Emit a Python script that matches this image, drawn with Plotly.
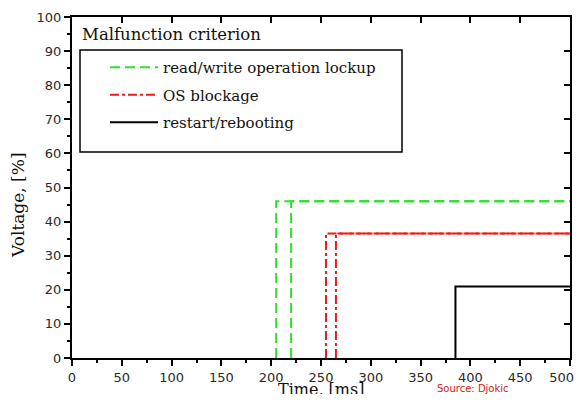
import plotly.graph_objects as go

# ---- data ----
series_names = ["read/write operation lockup", "OS blockage", "restart/rebooting"]
green_onsets = [205, 220]      # ms
green_level = 46               # %
red_onsets = [255, 265]        # ms
red_level = 36.5               # %
black_onsets = [385]           # ms
black_level = 21               # %
time_end = 500                 # ms (end of recording)
x_ticks = [0, 50, 100, 150, 200, 250, 300, 350, 400, 450, 500]
y_ticks = [0, 10, 20, 30, 40, 50, 60, 70, 80, 90, 100]

SERIF = "DejaVu Serif, Liberation Serif, serif"
SANS = "DejaVu Sans, Liberation Sans, sans-serif"

styles = [
    dict(color="#2ee02e", dash="10px,5px", width=2),
    dict(color="#ee1a1a", dash="9px,3px,3px,3px", width=2),
    dict(color="#000000", dash="solid", width=2),
]
groups = [(green_onsets, green_level), (red_onsets, red_level), (black_onsets, black_level)]

fig = go.Figure()
for i, ((onsets, level), name, st) in enumerate(zip(groups, series_names, styles)):
    for j, t0 in enumerate(onsets):
        fig.add_trace(go.Scatter(
            x=[t0, t0, time_end], y=[0, level, level],
            mode="lines", line=st, name=name,
            legendgroup=f"g{i}", showlegend=(j == 0),
            hoverinfo="skip",
        ))

# dummy trace to bring up the mirrored top/right axes
fig.add_trace(go.Scatter(x=[0], y=[0], xaxis="x2", yaxis="y2", mode="markers",
                         marker=dict(opacity=0), showlegend=False, hoverinfo="skip"))

# the page body has an 8px margin: the figure is drawn 8px right/down;
# keep the page from overflowing the window vertically
OFF = 8
W, H = 582 - OFF, 402 - 2 * OFF
L, T = 72 - OFF, 17 - OFF
R = W - (570 - OFF)
B = H - (358 - OFF)
pw, ph = W - L - R, H - T - B

def px_x(px):
    # window pixel -> paper x
    return (px - OFF - L) / pw

def px_y(py):
    # window pixel -> paper y
    return (H - B - (py - OFF)) / ph

# last x label sits against the window edge: pad it so it stays fully visible
x_ticktext = [str(v) for v in x_ticks]
x_ticktext[-1] = x_ticktext[-1] + "\u2007\u2007"

axis_common = dict(showgrid=False, zeroline=False, showline=True, linecolor="black",
                   linewidth=2, ticklen=6, tickwidth=2, tickcolor="black",
                   automargin=False)

fig.update_layout(
    width=W, height=H,
    margin=dict(l=L, r=R, t=T, b=B, autoexpand=False),
    paper_bgcolor="white", plot_bgcolor="white",
    xaxis=dict(range=[0, 500], tickvals=x_ticks, ticktext=x_ticktext, ticks="outside",
               ticklabeloverflow="allow",
               tickfont=dict(family=SANS, size=13, color="#2a2a2a"),
               minor=dict(dtick=25, ticks="outside", ticklen=3, tickwidth=2, tickcolor="black"),
               **axis_common),
    yaxis=dict(range=[0, 100], tickvals=y_ticks, ticks="outside",
               ticklabeloverflow="allow",
               tickfont=dict(family=SANS, size=13, color="#2a2a2a"),
               minor=dict(dtick=5, ticks="outside", ticklen=3, tickwidth=2, tickcolor="black"),
               **axis_common),
    xaxis2=dict(range=[0, 500], overlaying="x", side="top", tickvals=x_ticks,
                ticks="inside", showticklabels=False, **axis_common),
    yaxis2=dict(range=[0, 100], overlaying="y", side="right", tickvals=y_ticks,
                ticks="inside", showticklabels=False, **axis_common),
    showlegend=True,
    legend=dict(x=px_x(105), y=px_y(51), xanchor="left", yanchor="top",
                bgcolor="rgba(0,0,0,0)", borderwidth=0,
                font=dict(family=SERIF, size=15, color="#111"),
                tracegroupgap=5, itemwidth=48),
    shapes=[dict(type="rect", xref="paper", yref="paper",
                 x0=px_x(80), x1=px_x(402), y0=px_y(152), y1=px_y(50),
                 line=dict(color="black", width=1.5))],
    annotations=[
        dict(text="Malfunction criterion", xref="paper", yref="paper",
             x=px_x(80), y=px_y(35), xanchor="left", yanchor="middle",
             showarrow=False, font=dict(family=SERIF, size=16.5, color="#111")),
        dict(text="Voltage, [%]", xref="paper", yref="paper",
             x=px_x(18), y=px_y(205), xanchor="center", yanchor="middle",
             textangle=-90, showarrow=False, font=dict(family=SERIF, size=17, color="#111")),
        dict(text="Time, [ms]", xref="paper", yref="paper",
             x=px_x(321), y=px_y(389), xanchor="center", yanchor="middle",
             showarrow=False, font=dict(family=SERIF, size=16, color="#111")),
        dict(text="Source: Djokic", xref="paper", yref="paper",
             x=px_x(473), y=px_y(388), xanchor="center", yanchor="middle",
             showarrow=False, font=dict(family="DejaVu Sans, sans-serif", size=10, color="#d42020")),
    ],
)

fig.write_html("out.html")
